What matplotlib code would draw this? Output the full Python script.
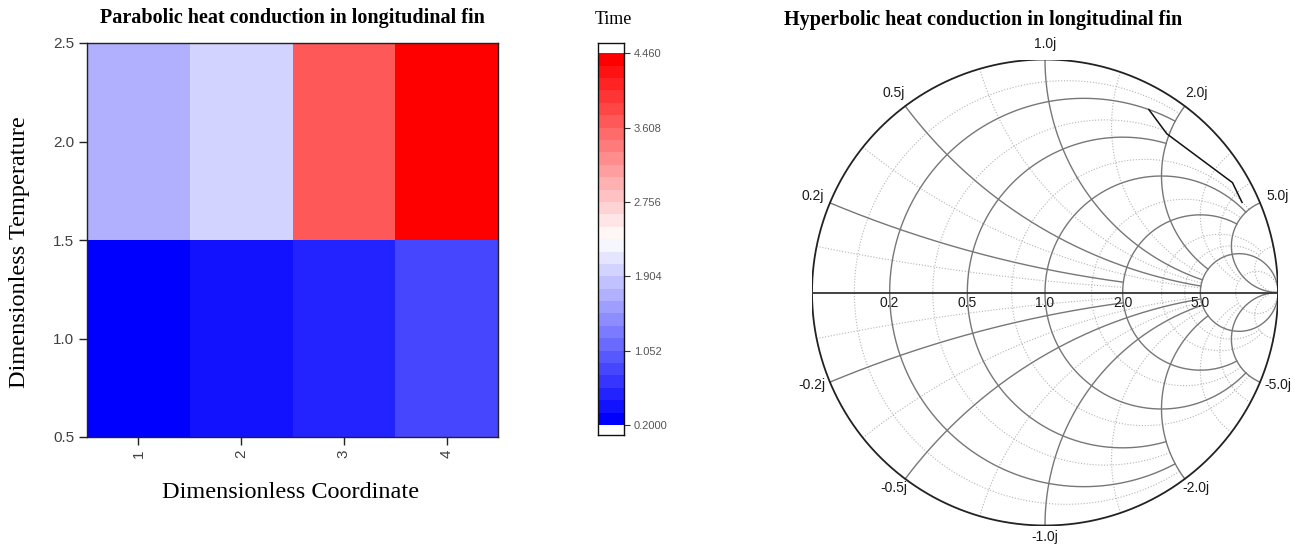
import numpy as np
import matplotlib
matplotlib.use("Agg")
import matplotlib.pyplot as plt
from matplotlib.colors import Normalize

# ---------------- data ----------------
coord_labels = ["1", "2", "3", "4"]
coord_values = [1, 2, 3, 4]
temp_ticks = [0.5, 1.0, 1.5, 2.0, 2.5]
time_low = [0.20, 0.38, 0.50, 0.78]     # row at temperature 1 (also real part of Smith data)
time_high = [1.70, 1.97, 3.62, 4.46]    # row at temperature 2 (also imaginary part)
time_min, time_max = 0.2, 4.46
n_levels = 30
cbar_ticks = [0.2, 1.052, 1.904, 2.756, 3.608, 4.460]
smith_real_ticks = [0.2, 0.5, 1.0, 2.0, 5.0]
smith_imag_ticks = [0.2, 0.5, 1.0, 2.0, 5.0]

SERIF = ["Liberation Serif", "DejaVu Serif"]
SANS = ["Liberation Sans", "DejaVu Sans"]

fig = plt.figure(figsize=(13.09, 5.46), dpi=100)
fig.patch.set_facecolor("white")

cmap = plt.get_cmap("bwr").resampled(n_levels)
norm = Normalize(vmin=time_min, vmax=time_max)

W, H = 1309.0, 546.0
def frac(l, t, r, b):
    return [l / W, 1 - b / H, (r - l) / W, (b - t) / H]

def ftext(x, y, s, **kw):
    return fig.text(x / W, 1 - y / H, s, **kw)

# ---------------- heatmap ----------------
ax = fig.add_axes(frac(87, 43, 498, 437))
vals = np.array([time_low, time_high])
xedges = np.arange(len(coord_values) + 1) + 0.5
yedges = np.array([0.5, 1.5, 2.5])
ax.pcolormesh(xedges, yedges, vals, cmap=cmap, norm=norm, shading="flat")
ax.set_xlim(0.5, 4.5)
ax.set_ylim(0.5, 2.5)
ax.set_xticks(coord_values)
ax.set_xticklabels(coord_labels, rotation=90, family=SANS, fontsize=11, color="#404040")
ax.set_yticks(temp_ticks)
ax.set_yticklabels([f"{v:.1f}" for v in temp_ticks], family=SANS, fontsize=11, color="#404040")
ax.tick_params(direction="out", length=6, width=1, color="#222222", pad=3)
for s in ax.spines.values():
    s.set_linewidth(1.0)
    s.set_color("#222222")
ftext(292.5, 18, "Parabolic heat conduction in longitudinal fin", family=SERIF,
      fontweight="bold", fontsize=14.5, ha="center", va="center")
ftext(291, 492, "Dimensionless Coordinate", family=SERIF, fontsize=17.5, ha="center", va="center")
ftext(20, 252, "Dimensionless Temperature", family=SERIF, fontsize=17.5, ha="center",
      va="center", rotation=90)

# ---------------- colorbar ----------------
cax = fig.add_axes(frac(598, 43, 624, 435))
edges = np.linspace(time_min, time_max, n_levels + 1)
centers = 0.5 * (edges[:-1] + edges[1:])
cax.pcolormesh([0, 1], edges, centers[:, None], cmap=cmap, norm=norm, shading="flat")
cax.set_xlim(0, 1)
cax.set_ylim(0.085, 4.578)
cax.set_xticks([])
cax.yaxis.tick_right()
cax.set_yticks(cbar_ticks)
cax.set_yticklabels(["%#.4g" % v for v in cbar_ticks], family=SANS, fontsize=8, color="#555555")
cax.tick_params(axis="y", direction="out", length=4, width=0.8, color="#333333", pad=3)
for s in cax.spines.values():
    s.set_linewidth(1.0)
    s.set_color("#111111")
ftext(613, 20, "Time", family=SERIF, fontsize=13, ha="center", va="center")

# ---------------- Smith chart ----------------
cx, cy, R = 1045.0, 292.5, 233.0
sax = fig.add_axes(frac(cx - R, cy - R, cx + R, cy + R))
sax.set_xlim(-1, 1)
sax.set_ylim(-1, 1)
sax.set_aspect("equal")
sax.axis("off")

def gam(z):
    z = np.asarray(z, dtype=complex)
    return (z - 1) / (z + 1)

def r_circle(r, xmax, **kw):
    if xmax is None:
        t = np.linspace(-np.pi / 2 + 1e-4, np.pi / 2 - 1e-4, 600)
    else:
        a = np.arctan(xmax)
        t = np.linspace(-a, a, 400)
    g = gam(r + 1j * np.tan(t))
    if xmax is None:
        g = np.concatenate([[1 + 0j], g, [1 + 0j]])
    sax.plot(g.real, g.imag, **kw)

def x_arc(x, rmax, **kw):
    if rmax is None:
        t = np.linspace(0, np.pi / 2 - 1e-4, 500)
    else:
        t = np.linspace(0, np.arctan(rmax), 400)
    g = gam(np.tan(t) + 1j * x)
    if rmax is None:
        g = np.concatenate([g, [1 + 0j]])
    sax.plot(g.real, g.imag, **kw)

minor_kw = dict(color="#b4b4b4", lw=0.8, linestyle=(0, (1, 1.6)), zorder=1)
major_kw = dict(color="#777777", lw=1.0, zorder=2)

# minor grid (resistance value, reactance limit) / (reactance value, resistance limit)
for r, xl in [(0.1, 2.0), (0.35, 2.0), (0.75, 5.0), (1.5, 5.0), (3.0, 10.0), (4.0, 10.0), (10.0, None)]:
    r_circle(r, xl, **minor_kw)
for x, rl in [(0.1, 2.0), (0.35, 5.0), (0.75, 5.0), (1.4, 5.0), (3.0, 10.0), (4.0, 10.0), (10.0, None)]:
    x_arc(x, rl, **minor_kw)
    x_arc(-x, rl, **minor_kw)

# major grid
r_limits = {0.2: 2.0, 0.5: 2.0, 1.0: 5.0, 2.0: 5.0, 5.0: None}
x_limits = {0.2: 2.0, 0.5: 5.0, 1.0: 5.0, 2.0: 5.0, 5.0: None}
for r in smith_real_ticks:
    r_circle(r, r_limits[r], **major_kw)
for x in smith_imag_ticks:
    x_arc(x, x_limits[x], **major_kw)
    x_arc(-x, x_limits[x], **major_kw)

# outer circle and real axis
th = np.linspace(0, 2 * np.pi, 800)
sax.plot(np.cos(th), np.sin(th), color="#222222", lw=1.3, zorder=3)
sax.plot([-1, 1], [0, 0], color="#333333", lw=1.3, zorder=3)

# labels
for r in smith_real_ticks:
    g = gam(r)
    sax.text(g.real, -0.043, f"{r:.1f}", family=SANS, fontsize=10, color="#1a1a1a",
             ha="center", va="center", zorder=5)
for x in smith_imag_ticks:
    for s in (1, -1):
        g = gam(1j * s * x)
        ang = np.angle(g)
        px = g.real + 0.0815 * np.cos(ang)
        py = g.imag + 0.058 * np.sin(ang) + 0.0086
        sax.text(px, py, f"{s * x:.1f}j", family=SANS, fontsize=10, color="#1a1a1a",
                 ha="center", va="center", clip_on=False, zorder=5)

# data line
zdata = np.array(time_low) + 1j * np.array(time_high)
gd = gam(zdata)
sax.plot(gd.real, gd.imag, color="#111111", lw=1.1, zorder=4)

ftext(983, 20, "Hyperbolic heat conduction in longitudinal fin", family=SERIF,
      fontweight="bold", fontsize=14.5, ha="center", va="center")

fig.savefig("out.png", dpi=100, facecolor="white")
